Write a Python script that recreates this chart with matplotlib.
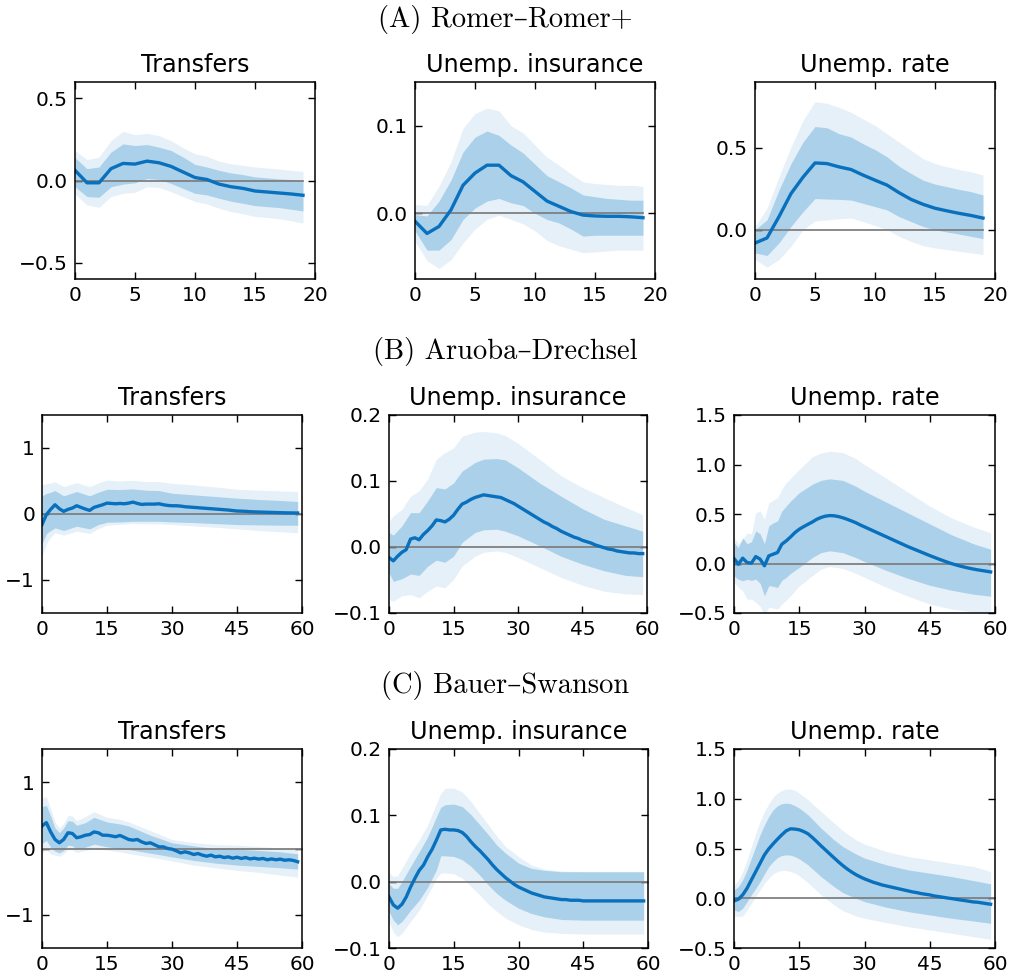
import numpy as np
import matplotlib
matplotlib.use("Agg")
import matplotlib.pyplot as plt

# ---------------- DATA ----------------
row_titles = ["(A) Romer–Romer+", "(B) Aruoba–Drechsel", "(C) Bauer–Swanson"]
panel_titles = ["Transfers", "Unemp. insurance", "Unemp. rate"]

# ---- Row A (horizons 0..19) ----
A_tr_med = [0.062, -0.014, -0.014, 0.072, 0.104, 0.10, 0.118, 0.108, 0.086, 0.052, 0.018, 0.006,
            -0.022, -0.038, -0.048, -0.064, -0.07, -0.076, -0.082, -0.09]
A_tr_hi68 = [0.139, 0.072, 0.082, 0.173, 0.223, 0.213, 0.219, 0.203, 0.183, 0.143, 0.098, 0.082,
             0.062, 0.046, 0.036, 0.022, 0.016, 0.01, 0.006, -0.002]
A_tr_lo68 = [-0.038, -0.098, -0.102, -0.038, -0.022, -0.014, 0.012, 0.006, -0.018, -0.048, -0.078,
             -0.088, -0.108, -0.126, -0.139, -0.153, -0.159, -0.165, -0.175, -0.185]
A_tr_hi90 = [0.183, 0.127, 0.143, 0.243, 0.299, 0.279, 0.287, 0.273, 0.243, 0.199, 0.163, 0.147,
             0.118, 0.102, 0.092, 0.082, 0.076, 0.07, 0.062, 0.056]
A_tr_lo90 = [-0.082, -0.149, -0.163, -0.098, -0.078, -0.072, -0.038, -0.042, -0.068, -0.098, -0.128,
             -0.143, -0.169, -0.189, -0.203, -0.219, -0.225, -0.233, -0.245, -0.259]

A_ui_med = [-0.009, -0.023, -0.015, 0.004, 0.032, 0.046, 0.055, 0.055, 0.043, 0.036, 0.025, 0.014,
            0.008, 0.002, -0.002, -0.003, -0.0034, -0.0034, -0.004, -0.005]
A_ui_hi68 = [-0.0015, -0.003, 0.014, 0.038, 0.070, 0.087, 0.094, 0.089, 0.078, 0.069, 0.056, 0.043,
             0.036, 0.029, 0.021, 0.019, 0.017, 0.016, 0.015, 0.015]
A_ui_lo68 = [-0.02, -0.042, -0.042, -0.03, -0.007, 0.006, 0.014, 0.017, 0.012, 0.009, 0.0, -0.007,
             -0.011, -0.018, -0.026, -0.025, -0.025, -0.025, -0.025, -0.025]
A_ui_hi90 = [0.01, 0.009, 0.031, 0.059, 0.097, 0.114, 0.12, 0.117, 0.1, 0.092, 0.078, 0.064, 0.055,
             0.045, 0.036, 0.034, 0.033, 0.032, 0.032, 0.031]
A_ui_lo90 = [-0.032, -0.054, -0.063, -0.053, -0.034, -0.018, -0.007, -0.002, -0.007, -0.012, -0.02,
             -0.031, -0.037, -0.041, -0.045, -0.044, -0.043, -0.042, -0.042, -0.042]

A_ur_med = [-0.081, -0.05, 0.08, 0.22, 0.32, 0.407, 0.403, 0.383, 0.367, 0.333, 0.302, 0.272, 0.226,
            0.185, 0.155, 0.131, 0.115, 0.1, 0.087, 0.071]
A_ur_hi68 = [0.0, 0.06, 0.242, 0.403, 0.534, 0.629, 0.621, 0.585, 0.565, 0.524, 0.488, 0.444, 0.387,
             0.343, 0.302, 0.278, 0.262, 0.246, 0.232, 0.212]
A_ur_lo68 = [-0.141, -0.157, -0.08, 0.02, 0.11, 0.19, 0.187, 0.185, 0.181, 0.161, 0.141, 0.121, 0.08,
             0.05, 0.02, 0.0, -0.014, -0.026, -0.04, -0.054]
A_ur_hi90 = [0.02, 0.131, 0.323, 0.504, 0.665, 0.78, 0.77, 0.746, 0.716, 0.675, 0.635, 0.585, 0.534,
             0.484, 0.433, 0.403, 0.383, 0.367, 0.353, 0.333]
A_ur_lo90 = [-0.181, -0.228, -0.181, -0.1, 0.0, 0.054, 0.06, 0.067, 0.071, 0.05, 0.026, 0.0, -0.04,
             -0.071, -0.097, -0.111, -0.121, -0.131, -0.141, -0.151]

# ---- Row B (horizons 0..59; bands read at listed horizons) ----
B_tr_med = [-0.16, -0.01, 0.07, 0.14, 0.08, 0.04, 0.07, 0.09, 0.125, 0.1, 0.075, 0.055, 0.1, 0.12,
            0.14, 0.165, 0.16, 0.155, 0.16, 0.155, 0.165, 0.18, 0.16, 0.145, 0.15, 0.15, 0.15, 0.155,
            0.14, 0.13, 0.125, 0.125, 0.12, 0.11, 0.105, 0.1, 0.095, 0.09, 0.085, 0.08, 0.075, 0.07,
            0.065, 0.06, 0.052, 0.045, 0.043, 0.04, 0.035, 0.032, 0.03, 0.028, 0.026, 0.024, 0.022,
            0.02, 0.018, 0.017, 0.016, 0.015]
B_tr_hb = [0, 1, 2, 3, 5, 8, 11, 13, 15, 18, 21, 24, 27, 30, 35, 40, 45, 50, 55, 59]
B_tr_hi90 = [0.44, 0.46, 0.47, 0.49, 0.415, 0.475, 0.415, 0.47, 0.515, 0.5, 0.51, 0.49, 0.49, 0.465,
             0.44, 0.41, 0.375, 0.36, 0.35, 0.34]
B_tr_hi68 = [0.275, 0.31, 0.33, 0.355, 0.275, 0.34, 0.275, 0.33, 0.375, 0.37, 0.38, 0.36, 0.355,
             0.315, 0.29, 0.265, 0.24, 0.22, 0.205, 0.19]
B_tr_lo68 = [-0.45, -0.3, -0.25, -0.21, -0.25, -0.185, -0.225, -0.16, -0.125, -0.12, -0.11, -0.11,
             -0.11, -0.12, -0.13, -0.145, -0.16, -0.165, -0.17, -0.17]
B_tr_lo90 = [-0.64, -0.45, -0.35, -0.285, -0.32, -0.26, -0.295, -0.22, -0.17, -0.155, -0.145, -0.15,
             -0.15, -0.16, -0.18, -0.2, -0.225, -0.25, -0.27, -0.285]

B_ui_med = [-0.016, -0.021, -0.014, -0.008, -0.004, 0.012, 0.014, 0.011, 0.019, 0.025, 0.032, 0.041,
            0.04, 0.038, 0.042, 0.048, 0.057, 0.065, 0.068, 0.072, 0.075, 0.077, 0.079, 0.078, 0.077,
            0.076, 0.075, 0.072, 0.069, 0.066, 0.062, 0.058, 0.054, 0.05, 0.046, 0.042, 0.038, 0.035,
            0.031, 0.028, 0.024, 0.021, 0.018, 0.015, 0.013, 0.01, 0.008, 0.006, 0.003, 0.001, -0.001,
            -0.003, -0.004, -0.006, -0.007, -0.008, -0.009, -0.009, -0.01, -0.01]
B_ui_hb = [0, 1, 3, 5, 7, 9, 11, 13, 15, 17, 20, 22, 25, 27, 30, 35, 40, 45, 50, 55, 59]
B_ui_hi68 = [0.022, 0.018, 0.032, 0.052, 0.052, 0.07, 0.09, 0.088, 0.097, 0.115, 0.128, 0.133, 0.134,
             0.132, 0.12, 0.097, 0.077, 0.058, 0.042, 0.032, 0.024]
B_ui_lo68 = [-0.039, -0.052, -0.048, -0.041, -0.043, -0.029, -0.02, -0.023, -0.014, 0.007, 0.022,
             0.026, 0.027, 0.024, 0.017, 0.002, -0.014, -0.026, -0.036, -0.043, -0.045]
B_ui_hi90 = [0.039, 0.047, 0.057, 0.077, 0.085, 0.103, 0.133, 0.143, 0.15, 0.168, 0.174, 0.175, 0.173,
             0.169, 0.157, 0.133, 0.108, 0.09, 0.075, 0.06, 0.049]
B_ui_lo90 = [-0.079, -0.082, -0.074, -0.072, -0.077, -0.067, -0.059, -0.062, -0.049, -0.029, -0.014,
             -0.008, -0.006, -0.008, -0.016, -0.031, -0.046, -0.058, -0.067, -0.071, -0.072]

B_ur_med = [0.05, -0.007, 0.054, 0.01, 0.003, 0.07, 0.044, -0.023, 0.077, 0.094, 0.111, 0.195, 0.228,
            0.268, 0.312, 0.346, 0.372, 0.396, 0.419, 0.446, 0.465, 0.478, 0.484, 0.482, 0.474, 0.462,
            0.447, 0.43, 0.412, 0.39, 0.37, 0.35, 0.33, 0.31, 0.29, 0.27, 0.25, 0.23, 0.21, 0.19, 0.17,
            0.152, 0.134, 0.116, 0.098, 0.08, 0.063, 0.046, 0.03, 0.014, -0.001, -0.014, -0.026,
            -0.037, -0.047, -0.056, -0.064, -0.071, -0.078, -0.085]
B_ur_hb = [0, 1, 2, 3, 4, 5, 6, 7, 8, 9, 10, 11, 12, 13, 15, 18, 20, 22, 25, 28, 30, 35, 40, 45, 50,
           55, 59]
B_ur_hi90 = [0.26, 0.2, 0.245, 0.31, 0.3, 0.513, 0.53, 0.446, 0.614, 0.64, 0.664, 0.75, 0.815, 0.86,
             0.95, 1.077, 1.117, 1.134, 1.12, 1.06, 1.0, 0.86, 0.72, 0.58, 0.46, 0.37, 0.31]
B_ur_hi68 = [0.21, 0.16, 0.26, 0.2, 0.22, 0.33, 0.3, 0.2, 0.38, 0.41, 0.43, 0.53, 0.58, 0.63, 0.715,
             0.8, 0.84, 0.855, 0.84, 0.78, 0.73, 0.62, 0.51, 0.4, 0.29, 0.2, 0.144]
B_ur_lo68 = [-0.124, -0.16, -0.174, -0.16, -0.17, -0.158, -0.2, -0.325, -0.225, -0.23, -0.242,
             -0.17, -0.141, -0.1, -0.04, 0.06, 0.11, 0.128, 0.11, 0.06, 0.02, -0.07, -0.15, -0.22,
             -0.27, -0.31, -0.33]
B_ur_lo90 = [-0.19, -0.24, -0.275, -0.36, -0.36, -0.393, -0.43, -0.52, -0.443, -0.45, -0.46, -0.41,
             -0.37, -0.325, -0.225, -0.124, -0.057, -0.03, -0.05, -0.1, -0.14, -0.24, -0.33, -0.41,
             -0.46, -0.49, -0.5]

# ---- Row C (horizons 0..59; bands read at listed horizons) ----
C_tr_med = [0.34, 0.39, 0.25, 0.136, 0.086, 0.136, 0.237, 0.227, 0.162, 0.177, 0.2, 0.21, 0.25,
            0.237, 0.2, 0.2, 0.19, 0.177, 0.197, 0.167, 0.136, 0.126, 0.136, 0.1, 0.076, 0.086, 0.056,
            0.025, 0.025, 0.0, -0.01, -0.035, -0.066, -0.05, -0.066, -0.09, -0.076, -0.1, -0.116,
            -0.1, -0.126, -0.116, -0.136, -0.126, -0.146, -0.131, -0.15, -0.136, -0.157, -0.146,
            -0.16, -0.15, -0.17, -0.157, -0.17, -0.16, -0.177, -0.17, -0.18, -0.2]
C_tr_hb = [0, 1, 2, 3, 4, 5, 6, 7, 8, 10, 12, 15, 18, 20, 25, 30, 35, 40, 45, 50, 55, 59]
C_tr_hi90 = [0.76, 0.78, 0.6, 0.4, 0.31, 0.38, 0.5, 0.49, 0.42, 0.48, 0.555, 0.47, 0.44, 0.40, 0.27,
             0.136, 0.09, 0.06, 0.05, 0.03, 0.01, -0.02]
C_tr_hi68 = [0.63, 0.65, 0.49, 0.31, 0.24, 0.31, 0.42, 0.41, 0.35, 0.39, 0.47, 0.40, 0.37, 0.34, 0.2,
             0.086, 0.04, 0.0, -0.01, -0.03, -0.05, -0.08]
C_tr_lo68 = [0.076, 0.12, 0.02, -0.04, -0.066, -0.03, 0.05, 0.04, -0.01, 0.02, 0.066, 0.025, 0.0,
             -0.015, -0.07, -0.126, -0.18, -0.22, -0.25, -0.27, -0.29, -0.31]
C_tr_lo90 = [-0.066, -0.02, -0.08, -0.1, -0.116, -0.08, -0.015, -0.02, -0.06, -0.03, 0.0, -0.025,
             -0.05, -0.076, -0.13, -0.187, -0.25, -0.29, -0.33, -0.36, -0.4, -0.43]

C_ui_med = [-0.023, -0.035, -0.04, -0.034, -0.023, -0.008, 0.005, 0.017, 0.025, 0.038, 0.049, 0.063,
            0.078, 0.079, 0.078, 0.078, 0.077, 0.074, 0.068, 0.06, 0.053, 0.047, 0.04, 0.033, 0.025,
            0.018, 0.012, 0.006, 0.001, -0.004, -0.008, -0.011, -0.014, -0.017, -0.019, -0.021,
            -0.023, -0.024, -0.025, -0.026, -0.027, -0.027, -0.028, -0.028, -0.028, -0.029, -0.029,
            -0.029, -0.029, -0.029, -0.029, -0.029, -0.029, -0.029, -0.029, -0.029, -0.029, -0.029,
            -0.029, -0.029]
C_ui_hb = [0, 1, 2, 3, 5, 7, 9, 11, 12, 13, 15, 17, 19, 21, 23, 25, 27, 30, 33, 36, 40, 45, 50, 55, 59]
C_ui_hi68 = [-0.003, -0.01, -0.01, 0.0, 0.023, 0.045, 0.068, 0.098, 0.112, 0.116, 0.117, 0.113,
             0.101, 0.086, 0.071, 0.055, 0.043, 0.028, 0.02, 0.017, 0.015, 0.015, 0.015, 0.015, 0.015]
C_ui_lo68 = [-0.045, -0.058, -0.065, -0.06, -0.043, -0.028, -0.008, 0.018, 0.039, 0.039, 0.038,
             0.033, 0.023, 0.01, -0.005, -0.018, -0.028, -0.04, -0.048, -0.053, -0.057, -0.058,
             -0.058, -0.058, -0.058]
C_ui_hi90 = [0.013, 0.008, 0.009, 0.02, 0.043, 0.063, 0.086, 0.118, 0.133, 0.141, 0.141, 0.135,
             0.121, 0.103, 0.086, 0.068, 0.053, 0.038, 0.025, 0.019, 0.016, 0.015, 0.015, 0.015, 0.015]
C_ui_lo90 = [-0.06, -0.076, -0.083, -0.078, -0.06, -0.043, -0.02, 0.005, 0.013, 0.013, 0.012, 0.005,
             -0.007, -0.02, -0.034, -0.045, -0.055, -0.065, -0.072, -0.076, -0.078, -0.079, -0.079,
             -0.079, -0.079]

C_ur_med = [-0.027, -0.01, 0.034, 0.1, 0.185, 0.268, 0.352, 0.436, 0.497, 0.547, 0.594, 0.638, 0.678,
            0.698, 0.695, 0.688, 0.671, 0.648, 0.611, 0.57, 0.527, 0.487, 0.446, 0.406, 0.366, 0.329,
            0.295, 0.265, 0.238, 0.215, 0.195, 0.178, 0.161, 0.148, 0.134, 0.124, 0.114, 0.104, 0.094,
            0.084, 0.074, 0.064, 0.057, 0.047, 0.04, 0.034, 0.023, 0.017, 0.01, 0.003, -0.003, -0.01,
            -0.017, -0.023, -0.03, -0.037, -0.04, -0.047, -0.054, -0.06]
C_ur_hb = [0, 1, 2, 3, 4, 5, 6, 7, 8, 9, 10, 11, 12, 13, 14, 15, 17, 20, 23, 25, 28, 30, 35, 40, 45,
           50, 55, 59]
C_ur_hi68 = [0.084, 0.117, 0.185, 0.285, 0.403, 0.52, 0.638, 0.738, 0.822, 0.889, 0.93, 0.95, 0.956,
             0.95, 0.93, 0.906, 0.839, 0.705, 0.587, 0.52, 0.446, 0.403, 0.336, 0.285, 0.252, 0.218,
             0.178, 0.144]
C_ur_lo68 = [-0.117, -0.134, -0.1, -0.034, 0.034, 0.1, 0.168, 0.245, 0.319, 0.369, 0.409, 0.43, 0.436,
             0.433, 0.419, 0.396, 0.336, 0.218, 0.117, 0.057, 0.0, -0.034, -0.09, -0.134, -0.168,
             -0.201, -0.228, -0.252]
C_ur_hi90 = [0.134, 0.178, 0.268, 0.386, 0.52, 0.654, 0.772, 0.872, 0.95, 1.017, 1.057, 1.084, 1.097,
             1.097, 1.084, 1.057, 0.99, 0.872, 0.755, 0.681, 0.587, 0.544, 0.47, 0.419, 0.386, 0.352,
             0.319, 0.268]
C_ur_lo90 = [-0.178, -0.185, -0.178, -0.117, -0.05, 0.017, 0.084, 0.151, 0.201, 0.245, 0.268, 0.279,
             0.279, 0.268, 0.252, 0.225, 0.158, 0.034, -0.067, -0.124, -0.178, -0.201, -0.245, -0.285,
             -0.319, -0.352, -0.386, -0.413]

# axis settings (per row / column)
ylims = [[(-0.6, 0.6), (-0.075, 0.15), (-0.3, 0.9)],
         [(-1.5, 1.5), (-0.1, 0.2), (-0.5, 1.5)],
         [(-1.5, 1.5), (-0.1, 0.2), (-0.5, 1.5)]]
yticks = [[[-0.5, 0.0, 0.5], [0.0, 0.1], [0.0, 0.5]],
          [[-1, 0, 1], [-0.1, 0.0, 0.1, 0.2], [-0.5, 0.0, 0.5, 1.0, 1.5]],
          [[-1, 0, 1], [-0.1, 0.0, 0.1, 0.2], [-0.5, 0.0, 0.5, 1.0, 1.5]]]
xlims = [(0, 20), (0, 60), (0, 60)]
xticks = [[0, 5, 10, 15, 20], [0, 15, 30, 45, 60], [0, 15, 30, 45, 60]]

# ---------------- FIGURE ----------------
W, H = 1011, 976
fig = plt.figure(figsize=(W / 100, H / 100), dpi=100)

# axes boxes in pixels: left, right, top, bottom
boxes = [[(75, 315, 82, 279), (415, 655, 82, 279), (755, 995, 82, 279)],
         [(42, 302, 415, 613), (389, 647, 415, 613), (734, 995, 415, 613)],
         [(42, 302, 749, 948), (389, 648, 749, 948), (734, 995, 749, 948)]]
title_y = [20, 351, 686]

LINE = "#0870BC"
BAND = "#0072BD"

panels = [
    [(A_tr_med, None, A_tr_lo68, A_tr_hi68, A_tr_lo90, A_tr_hi90),
     (A_ui_med, None, A_ui_lo68, A_ui_hi68, A_ui_lo90, A_ui_hi90),
     (A_ur_med, None, A_ur_lo68, A_ur_hi68, A_ur_lo90, A_ur_hi90)],
    [(B_tr_med, B_tr_hb, B_tr_lo68, B_tr_hi68, B_tr_lo90, B_tr_hi90),
     (B_ui_med, B_ui_hb, B_ui_lo68, B_ui_hi68, B_ui_lo90, B_ui_hi90),
     (B_ur_med, B_ur_hb, B_ur_lo68, B_ur_hi68, B_ur_lo90, B_ur_hi90)],
    [(C_tr_med, C_tr_hb, C_tr_lo68, C_tr_hi68, C_tr_lo90, C_tr_hi90),
     (C_ui_med, C_ui_hb, C_ui_lo68, C_ui_hi68, C_ui_lo90, C_ui_hi90),
     (C_ur_med, C_ur_hb, C_ur_lo68, C_ur_hi68, C_ur_lo90, C_ur_hi90)],
]

for r in range(3):
    fig.text(0.5, 1 - title_y[r] / H, row_titles[r], ha="center", va="center",
             fontsize=20.5, family=["cmr10", "DejaVu Serif"])
    for c in range(3):
        l, rr, t, b = boxes[r][c]
        ax = fig.add_axes([l / W, 1 - b / H, (rr - l) / W, (b - t) / H])
        med, hb, lo68, hi68, lo90, hi90 = panels[r][c]
        h = np.arange(len(med))
        hband = h if hb is None else np.array(hb)
        ax.fill_between(hband, lo90, hi90, color=BAND, alpha=0.10, lw=0)
        ax.fill_between(hband, lo68, hi68, color=BAND, alpha=0.25, lw=0)
        if r == 0:
            ax.plot([h[0], h[-1]], [0, 0], color="#808080", lw=1.3)
        else:
            ax.axhline(0, color="#808080", lw=1.3)
        ax.plot(h, med, color=LINE, lw=2.4)
        ax.set_xlim(*xlims[r])
        ax.set_ylim(*ylims[r][c])
        ax.set_xticks(xticks[r])
        ax.set_yticks(yticks[r][c])
        ax.tick_params(direction="in", top=True, right=True, length=5, width=1,
                       labelsize=14.5, pad=5)
        for s in ax.spines.values():
            s.set_linewidth(1.1)
        ax.set_title(panel_titles[c], fontsize=17.2, pad=7)

fig.savefig("out.png", dpi=100)
